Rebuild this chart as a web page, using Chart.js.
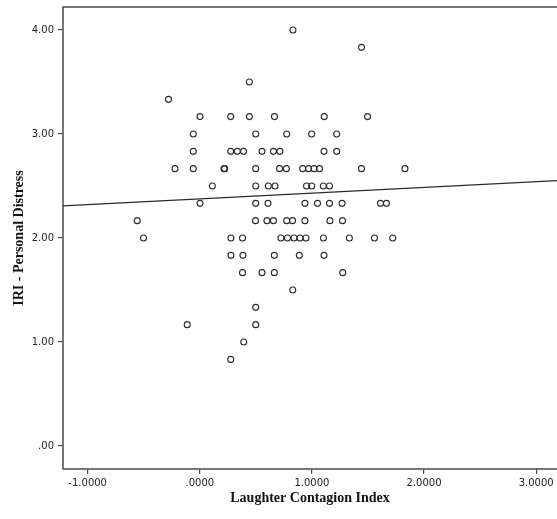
<!DOCTYPE html>
<html>
<head>
<meta charset="utf-8">
<script src="https://cdn.jsdelivr.net/npm/chart.js@4/dist/chart.umd.min.js"></script>
<style>
  body { margin: 0; background: #fff; overflow: hidden; }
  canvas { display: block; }
</style>
</head>
<body>
<canvas id="scatter" width="557" height="519"></canvas>
<script>
// values, one line per distress level
const laughterIndex = [
  0.831,
  1.442,
  0.442,
  -0.279,
  0.002, 0.276, 0.442, 0.666, 1.110, 1.496,
  -0.058, 0.499, 0.775, 0.998, 1.221,
  -0.058, 0.276, 0.335, 0.390, 0.555, 0.657, 0.715, 1.108, 1.221,
  -0.221, -0.058, 0.216, 0.222, 0.499, 0.711, 0.772, 0.918, 0.970, 1.019, 1.068, 1.442, 1.830,
  0.112, 0.499, 0.611, 0.671, 0.952, 0.998, 1.102, 1.157,
  0.002, 0.499, 0.608, 0.938, 1.050, 1.157, 1.269, 1.612, 1.665,
  -0.558, 0.497, 0.599, 0.657, 0.775, 0.827, 0.938, 1.161, 1.273,
  -0.502, 0.278, 0.381, 0.724, 0.782, 0.840, 0.894, 0.947, 1.103, 1.334, 1.558, 1.721,
  0.278, 0.385, 0.665, 0.888, 1.108,
  0.381, 0.555, 0.665, 1.275,
  0.829,
  0.499,
  -0.112, 0.499,
  0.392,
  0.276
];
const personalDistress = [
  4.000,
  3.833,
  3.500,
  3.333,
  3.167, 3.167, 3.167, 3.167, 3.167, 3.167,
  3.000, 3.000, 3.000, 3.000, 3.000,
  2.833, 2.833, 2.833, 2.833, 2.833, 2.833, 2.833, 2.833, 2.833,
  2.667, 2.667, 2.667, 2.667, 2.667, 2.667, 2.667, 2.667, 2.667, 2.667, 2.667, 2.667, 2.667,
  2.500, 2.500, 2.500, 2.500, 2.500, 2.500, 2.500, 2.500,
  2.333, 2.333, 2.333, 2.333, 2.333, 2.333, 2.333, 2.333, 2.333,
  2.167, 2.167, 2.167, 2.167, 2.167, 2.167, 2.167, 2.167, 2.167,
  2.000, 2.000, 2.000, 2.000, 2.000, 2.000, 2.000, 2.000, 2.000, 2.000, 2.000, 2.000,
  1.833, 1.833, 1.833, 1.833, 1.833,
  1.667, 1.667, 1.667, 1.667,
  1.500,
  1.333,
  1.167, 1.167,
  1.000,
  0.833
];

// fit line ends
const fitX = [-1.22, 3.19];
const fitY = [2.308, 2.551];

const xTicks = [-1, 0, 1, 2, 3];
const xTickLabels = ['-1.0000', '.0000', '1.0000', '2.0000', '3.0000'];
const yTicks = [0, 1, 2, 3, 4];
const yTickLabels = ['.00', '1.00', '2.00', '3.00', '4.00'];

const points = laughterIndex.map((x, i) => ({ x, y: personalDistress[i] }));
const fitLine = fitX.map((x, i) => ({ x, y: fitY[i] }));

// SPSS style frame: left, top and bottom only (right side runs off the page)
const framePlugin = {
  id: 'frame',
  afterDatasetsDraw(chart) {
    const { ctx, chartArea: a } = chart;
    ctx.save();
    ctx.strokeStyle = '#4a4a4a';
    ctx.lineWidth = 1.5;
    ctx.beginPath();
    ctx.moveTo(a.right + 10, a.top);
    ctx.lineTo(a.left, a.top);
    ctx.lineTo(a.left, a.bottom);
    ctx.lineTo(a.right + 10, a.bottom);
    ctx.stroke();
    ctx.restore();
  }
};

const tickFont = { family: 'DejaVu Sans', size: 10 };
const titleFont = { family: 'Liberation Serif', size: 14, weight: 'bold' };

new Chart(document.getElementById('scatter').getContext('2d'), {
  type: 'scatter',
  data: {
    datasets: [
      {
        data: points,
        pointRadius: 3,
        pointHoverRadius: 3,
        borderWidth: 1.1,
        borderColor: '#2b2b2b',
        backgroundColor: 'rgba(0,0,0,0)'
      },
      {
        type: 'line',
        data: fitLine,
        showLine: true,
        pointRadius: 0,
        borderWidth: 1.2,
        borderColor: '#2b2b2b',
        fill: false
      }
    ]
  },
  options: {
    responsive: false,
    animation: false,
    layout: { autoPadding: false, padding: { top: 7, left: 0, right: 0, bottom: 0 } },
    plugins: {
      legend: { display: false },
      tooltip: { enabled: false }
    },
    scales: {
      x: {
        type: 'linear',
        min: -1.22,
        max: 3.186,
        afterBuildTicks: s => { s.ticks = xTicks.map(v => ({ value: v })); },
        afterFit: s => { s.height = 50; s.paddingLeft = 0; s.paddingRight = 0; },
        ticks: {
          color: '#222',
          font: tickFont,
          padding: 3,
          maxRotation: 0,
          callback: v => xTickLabels[xTicks.indexOf(v)]
        },
        grid: { drawOnChartArea: false, drawTicks: true, tickLength: 5, color: '#4a4a4a', lineWidth: 1.2 },
        border: { display: false },
        title: {
          display: true,
          text: 'Laughter Contagion Index',
          color: '#111',
          font: titleFont,
          padding: { top: 0, bottom: 12 }
        }
      },
      y: {
        type: 'linear',
        min: -0.221,
        max: 4.221,
        afterBuildTicks: s => { s.ticks = yTicks.map(v => ({ value: v })); },
        afterFit: s => { s.width = 63; s.paddingTop = 0; s.paddingBottom = 0; },
        ticks: {
          color: '#222',
          font: tickFont,
          padding: 4,
          callback: v => yTickLabels[yTicks.indexOf(v)]
        },
        grid: { drawOnChartArea: false, drawTicks: true, tickLength: 5, color: '#4a4a4a', lineWidth: 1.2 },
        border: { display: false },
        title: {
          display: true,
          text: 'IRI - Personal Distress',
          color: '#111',
          font: titleFont,
          padding: { top: 11, bottom: 0 }
        }
      }
    }
  },
  plugins: [framePlugin]
});
</script>
</body>
</html>
